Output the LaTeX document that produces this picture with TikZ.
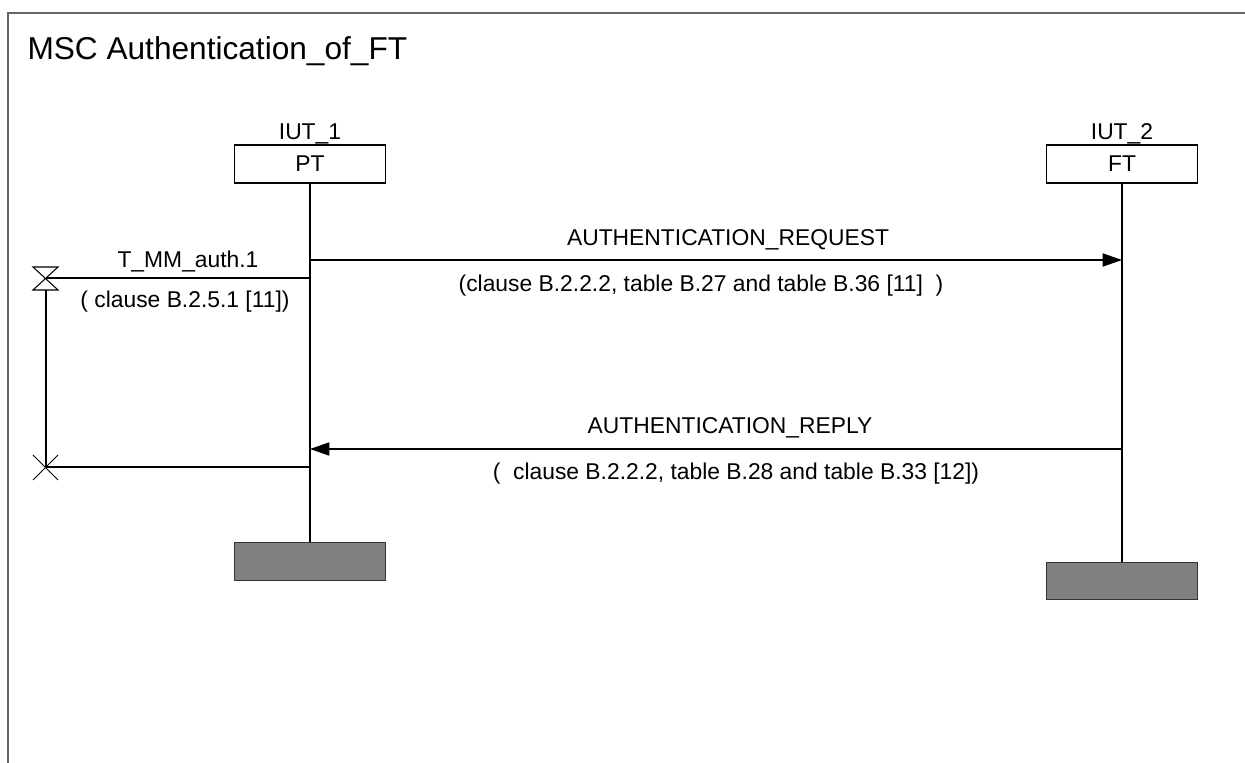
\documentclass[tikz,border=0pt]{standalone}
\usepackage{fontspec}
\setmainfont{Liberation Sans}
\usetikzlibrary{arrows.meta,positioning,calc}

\tikzset{
    instbox/.style={draw, rectangle, minimum width=3.02cm, minimum height=0.76cm},
    endbox/.style={draw=black!80, rectangle, fill=black!50, minimum width=3.02cm, minimum height=0.75cm},
    msg/.style={-{Triangle[length=11pt,width=7.5pt]}},
    lbl/.style={anchor=base}
}

\begin{document}
\begin{tikzpicture}[x=0.02cm, y=-0.02cm, line width=0.6pt,
    every node/.style={font=\fontsize{13}{15}\selectfont, inner sep=0pt}]
    \useasboundingbox (0,0) rectangle (1245,763);

    % Frame
    \draw[black!60, line width=1.1pt] (8,763) -- (8,13) -- (1245,13);
    \node[anchor=base west, font=\fontsize{18}{21}\selectfont] (title) at (27,60) {MSC Authentication\_of\_FT};

    % Instances
    \node[instbox] (pt) at (310,164) {PT};
    \node[lbl] (iut1) at (310,140) {IUT\_1};
    \node[instbox] (ft) at (1122,164) {FT};
    \node[lbl] (iut2) at (1122,140) {IUT\_2};

    \node[endbox] (pt-end) at (310,561.5) {};
    \node[endbox] (ft-end) at (1122,581) {};

    \draw (pt) -- (pt-end);
    \draw (ft) -- (ft-end);

    % Messages
    \coordinate (pt-req) at (310,260);
    \coordinate (ft-req) at (1122,260);
    \coordinate (pt-rep) at (310,449);
    \coordinate (ft-rep) at (1122,449);

    \draw[msg] (pt-req) -- (ft-req);
    \node[lbl] (req-name) at (728,246) {AUTHENTICATION\_REQUEST};
    \node[lbl] (req-ref) at (701,292) {(clause B.2.2.2, table B.27 and table B.36 [11]\ \ )};

    \draw[msg] (ft-rep) -- (pt-rep);
    \node[lbl] (rep-name) at (730,434) {AUTHENTICATION\_REPLY};
    \node[lbl] (rep-ref) at (736,480) {(\ \ clause B.2.2.2, table B.28 and table B.33 [12])};

    % Timer
    \coordinate (timer-set) at (46,278);
    \coordinate (timer-out) at (46,467);
    \coordinate (pt-set) at (310,278);
    \coordinate (pt-out) at (310,467);

    \draw ($(timer-set)+(-13,-11)$) -- ++(25,0) -- ($(timer-set)+(-13,12)$) -- ++(25,0) -- cycle;
    \draw (timer-set) -- (pt-set);
    \draw ($(timer-set)+(0,12)$) -- (timer-out);
    \draw ($(timer-out)+(-13,-12)$) -- ($(timer-out)+(12,13)$);
    \draw ($(timer-out)+(-13,13)$) -- ($(timer-out)+(12,-12)$);
    \draw (timer-out) -- (pt-out);
    \node[lbl] (timer-name) at (188,268) {T\_MM\_auth.1};
    \node[lbl] (timer-ref) at (185,308) {( clause B.2.5.1 [11])};
\end{tikzpicture}
\end{document}
